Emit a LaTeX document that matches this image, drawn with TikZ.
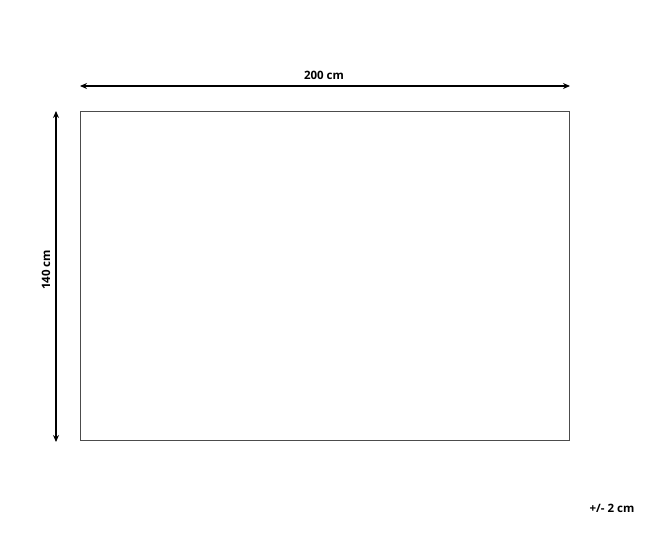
\documentclass[tikz,border=0pt]{standalone}
\usepackage{fontspec}
\setmainfont{Open Sans}
\usetikzlibrary{arrows.meta}
\begin{document}
\begin{tikzpicture}[x=1pt,y=-1pt,
  dim/.style={line width=1.3pt,{Stealth[length=7pt,width=6pt]}-{Stealth[length=7pt,width=6pt]}},
  lbl/.style={font=\fontsize{11.5}{13}\selectfont\bfseries,inner sep=0pt}]
\useasboundingbox (0,0) rectangle (650,551);
\draw[line width=0.9pt,draw=black!70] (80.5,111.5) rectangle (569.5,440.5);
\coordinate (tl) at (80,86);
\coordinate (tr) at (570,86);
\coordinate (lt) at (56,111);
\coordinate (lb) at (56,442);
\draw[dim] (tl) -- (tr);
\draw[dim] (lt) -- (lb);
\node[lbl] (w) at (324,75) {200 cm};
\node[lbl,rotate=90] (h) at (46,270) {140 cm};
\node[lbl] (tol) at (612,508) {+/- 2 cm};
\end{tikzpicture}
\end{document}
